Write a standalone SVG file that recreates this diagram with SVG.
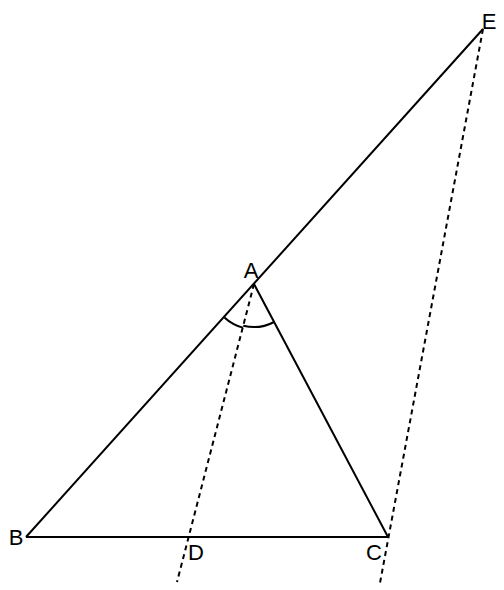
<svg xmlns="http://www.w3.org/2000/svg" width="504" height="590" viewBox="0 0 504 590">
<style>
.s{stroke:#000;stroke-width:2;fill:none}
.d{stroke:#000;stroke-width:2;fill:none;stroke-dasharray:5,4}
.t{font-family:"Liberation Sans",Arial,sans-serif;font-size:22px;fill:#000}
</style>
<rect width="504" height="590" fill="#fff"/>
<g id="connectors">
<line class="s" x1="26" y1="537" x2="483" y2="29"/>
<line class="s" x1="26" y1="537" x2="388" y2="537"/>
<line class="s" x1="254" y1="284" x2="388" y2="537"/>
<line class="d" x1="254" y1="284" x2="177" y2="582"/>
<line class="d" x1="483" y1="29" x2="380" y2="583"/>
<path class="s" d="M224.4,317.4 A45,45 0 0 0 242.8,327.6"/>
<path class="s" d="M243.3,325.7 A43,43 0 0 0 274.1,322"/>
</g>
<g id="A"><text class="t" x="251" y="278" text-anchor="middle">A</text></g>
<g id="B"><text class="t" x="16" y="545" text-anchor="middle">B</text></g>
<g id="C"><text class="t" x="374" y="560" text-anchor="middle">C</text></g>
<g id="D"><text class="t" x="196" y="560" text-anchor="middle">D</text></g>
<g id="E"><text class="t" x="489" y="29" text-anchor="middle">E</text></g>
</svg>
